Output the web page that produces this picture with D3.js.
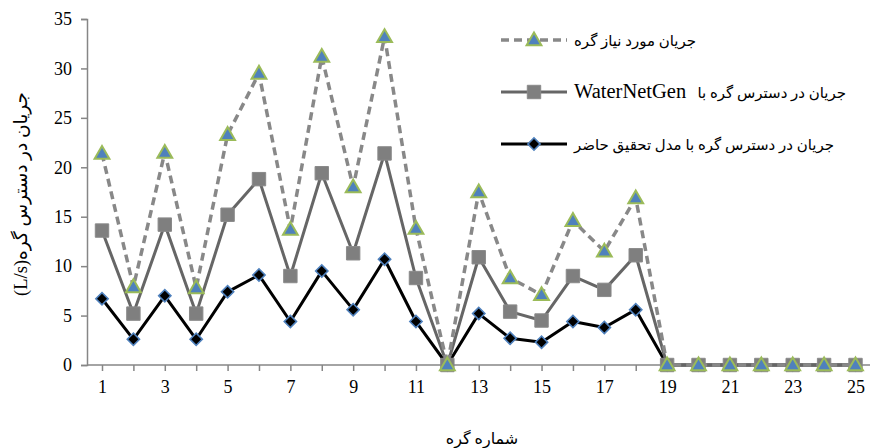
<!DOCTYPE html>
<html>
<head>
<meta charset="utf-8">
<script src="https://cdn.jsdelivr.net/npm/d3@7"></script>
<style>
  html, body { margin: 0; padding: 0; background: #fff; }
  svg { display: block; }
</style>
</head>
<body>
<svg id="chart" width="870" height="448"></svg>
<script>
// ---- data ----
const categories = d3.range(1, 26);
const xTickLabels = [1, 3, 5, 7, 9, 11, 13, 15, 17, 19, 21, 23, 25];
const yTicks = [0, 5, 10, 15, 20, 25, 30, 35];
const demand = [21.4, 7.9, 21.5, 7.8, 23.3, 29.5, 13.7, 31.2, 18.0, 33.2, 13.8, 0,
                17.5, 8.8, 7.1, 14.6, 11.5, 16.9, 0, 0, 0, 0, 0, 0, 0];
const waterNetGen = [13.6, 5.2, 14.2, 5.2, 15.2, 18.8, 9.0, 19.4, 11.3, 21.4, 8.8, 0,
                     10.9, 5.4, 4.5, 9.0, 7.6, 11.1, 0, 0, 0, 0, 0, 0, 0];
const presentModel = [6.7, 2.6, 7.0, 2.6, 7.4, 9.1, 4.4, 9.5, 5.6, 10.7, 4.4, 0,
                      5.2, 2.7, 2.3, 4.4, 3.8, 5.6, 0, 0, 0, 0, 0, 0, 0];
// legend label parts: [Persian part, Latin part]
const seriesNames = [
  ["جریان مورد نیاز گره", ""],
  ["جریان در دسترس گره با\u00A0\u00A0\u00A0", "WaterNetGen"],
  ["جریان در دسترس گره با مدل تحقیق حاضر", ""]
];
const yTitle = "جریان در دسترس گره(L/s)";
const xTitle = "شماره گره";

// ---- layout ----
const svg = d3.select("#chart");
const axisColor = "#868686";
const latin = "'Liberation Serif', 'Times New Roman', serif";
const mixed = "'Liberation Serif', 'DejaVu Sans', serif";

const x = d3.scalePoint().domain(categories).range([102, 855.5]);
const y = d3.scaleLinear().domain([0, 35]).range([365, 19]);
const axisLeftX = 87, axisRightX = 870;

// y axis
const yAxis = svg.append("g")
  .attr("transform", `translate(${axisLeftX},0)`)
  .call(d3.axisLeft(y).tickValues(yTicks).tickSize(6).tickPadding(9).tickFormat(d3.format("d")));
yAxis.select(".domain").attr("stroke", axisColor).attr("stroke-width", 1.5);
yAxis.selectAll(".tick line").attr("stroke", axisColor).attr("stroke-width", 1.5);
yAxis.selectAll(".tick text").attr("fill", "#000").style("font-family", latin).style("font-size", "18px");

// x axis
const xAxis = svg.append("g")
  .attr("transform", `translate(0,${y(0)})`)
  .call(d3.axisBottom(x).tickSize(6).tickPadding(9).tickSizeOuter(0)
        .tickFormat(d => xTickLabels.includes(d) ? d : ""));
xAxis.select(".domain").remove();
xAxis.append("line").attr("x1", axisLeftX).attr("x2", axisRightX).attr("y1", 0).attr("y2", 0)
  .attr("stroke", axisColor).attr("stroke-width", 1.5);
xAxis.selectAll(".tick line").attr("stroke", axisColor).attr("stroke-width", 1.5);
xAxis.selectAll(".tick text").attr("fill", "#000").style("font-family", latin).style("font-size", "18px");

// series styles
const styles = [
  { values: demand, stroke: "#888888", width: 3.5, dash: "8,5", marker: "tri" },
  { values: waterNetGen, stroke: "#666666", width: 3, dash: null, marker: "sq" },
  { values: presentModel, stroke: "#000000", width: 3, dash: null, marker: "dia" }
];

const triPath = d3.symbol().type(d3.symbolTriangle).size(95)();
const sqPath = d3.symbol().type(d3.symbolSquare).size(180)();
const diaPath = d3.symbol().type(d3.symbolSquare).size(75)();

function drawMarker(g, kind, cx, cy) {
  if (kind === "tri") {
    g.append("path").attr("d", triPath).attr("transform", `translate(${cx},${cy + 1})`)
      .attr("fill", "#4f81bd").attr("stroke", "#9bbb59").attr("stroke-width", 2);
  } else if (kind === "sq") {
    g.append("path").attr("d", sqPath).attr("transform", `translate(${cx},${cy})`)
      .attr("fill", "#7f7f7f").attr("stroke", "#8a8a8a").attr("stroke-width", 1);
  } else {
    g.append("path").attr("d", diaPath).attr("transform", `translate(${cx},${cy}) rotate(45)`)
      .attr("fill", "#000").attr("stroke", "#4f81bd").attr("stroke-width", 1.6);
  }
}

const line = d3.line().x((d, i) => x(categories[i])).y(d => y(d));
const plot = svg.append("g");
[2, 1, 0].forEach(si => {
  const s = styles[si];
  const g = plot.append("g");
  g.append("path").datum(s.values).attr("d", line).attr("fill", "none")
    .attr("stroke", s.stroke).attr("stroke-width", s.width)
    .attr("stroke-dasharray", s.dash).attr("stroke-linejoin", "round");
  s.values.forEach((v, i) => drawMarker(g, s.marker, x(categories[i]), y(v)));
});

// legend
const legendRows = [40, 92, 144];
const legend = svg.append("g");
styles.forEach((s, i) => {
  const ly = legendRows[i];
  legend.append("line").attr("x1", 501).attr("x2", 567).attr("y1", ly).attr("y2", ly)
    .attr("stroke", s.stroke).attr("stroke-width", s.width).attr("stroke-dasharray", s.dash);
  drawMarker(legend, s.marker, 534, ly);
  const t = legend.append("text")
    .attr("x", 574).attr("y", ly + 6)
    .attr("direction", "rtl").attr("text-anchor", "end")
    .style("font-family", mixed).style("white-space", "pre").attr("fill", "#000");
  t.append("tspan").style("font-size", "15px").text(seriesNames[i][0]);
  if (seriesNames[i][1]) t.append("tspan").style("font-size", "20.5px").text(seriesNames[i][1]);
});

// axis titles
svg.append("text")
  .attr("transform", "translate(27,194) rotate(-90)")
  .attr("direction", "rtl").attr("text-anchor", "middle")
  .style("font-family", mixed).style("font-size", "18.5px").attr("fill", "#000")
  .text(yTitle);
svg.append("text")
  .attr("x", 482).attr("y", 444)
  .attr("direction", "rtl").attr("text-anchor", "middle")
  .style("font-family", mixed).style("font-size", "16px").attr("fill", "#000")
  .text(xTitle);
</script>
</body>
</html>
